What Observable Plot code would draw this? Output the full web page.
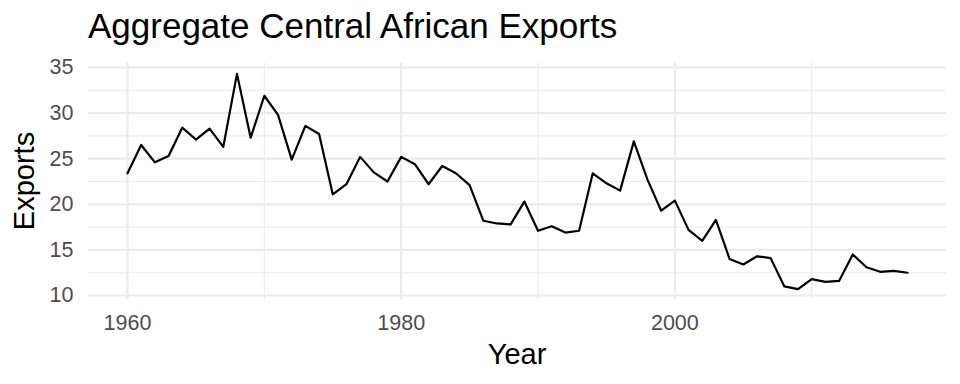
<!DOCTYPE html>
<html><head><meta charset="utf-8">
<script src="https://cdn.jsdelivr.net/npm/d3@7"></script>
<script src="https://cdn.jsdelivr.net/npm/@observablehq/plot@0.6"></script>
<style>
body{margin:0;background:#fff;font-family:"Liberation Sans",Arial,Helvetica,sans-serif}
#wrap{position:relative;width:960px;height:384px;overflow:hidden}
#title{position:absolute;left:88px;top:8px;font-size:35px;line-height:1;color:#000;white-space:nowrap}
.axt{position:absolute;font-size:29px;line-height:1;color:#000;white-space:nowrap;transform:translate(-50%,-50%)}
#xlab{left:517px;top:354px}
#ylab{left:23.5px;top:181px;transform:translate(-50%,-50%) rotate(-90deg)}
</style></head><body>
<div id="wrap"><div id="chart"></div>
<div id="title">Aggregate Central African Exports</div>
<div id="xlab" class="axt">Year</div>
<div id="ylab" class="axt">Exports</div>
</div>
<script>
const years = [1960,1961,1962,1963,1964,1965,1966,1967,1968,1969,
  1970,1971,1972,1973,1974,1975,1976,1977,1978,1979,
  1980,1981,1982,1983,1984,1985,1986,1987,1988,1989,
  1990,1991,1992,1993,1994,1995,1996,1997,1998,1999,
  2000,2001,2002,2003,2004,2005,2006,2007,2008,2009,
  2010,2011,2012,2013,2014,2015,2016,2017];
const exportsVals = [23.4,26.5,24.6,25.3,28.4,27.1,28.3,26.3,34.3,27.3,
  31.9,29.8,24.9,28.6,27.7,21.1,22.2,25.2,23.5,22.5,
  25.2,24.4,22.2,24.2,23.4,22.1,18.2,17.9,17.8,20.3,
  17.1,17.6,16.9,17.1,23.4,22.3,21.5,26.9,22.7,19.3,
  20.4,17.2,16.0,18.3,14.0,13.4,14.3,14.1,11.0,10.7,
  11.8,11.5,11.6,14.5,13.1,12.6,12.7,12.5];
const xMajor = [1960,1980,2000];
const xMinor = [1970,1990,2010];
const yMajor = [10,15,20,25,30,35];
const yMinor = [12.5,17.5,22.5,27.5,32.5];

const data = years.map((y,i)=>({year:y, value:exportsVals[i]}));
const xr = d3.extent(years), yr = d3.extent(exportsVals);
const xe = (xr[1]-xr[0])*0.05, ye = (yr[1]-yr[0])*0.05;
const grid = "#ebebeb";

const chart = Plot.plot({
  width: 960, height: 384,
  marginTop: 62.6, marginBottom: 84.6, marginLeft: 88, marginRight: 14,
  style: {fontFamily: '"Liberation Sans",Arial,sans-serif', fontSize: "21.5px", color: "#4d4d4d", background: "#fff"},
  x: {domain: [xr[0]-xe, xr[1]+xe], label: null},
  y: {domain: [yr[0]-ye, yr[1]+ye], label: null},
  marks: [
    Plot.ruleX(xMinor, {stroke: grid, strokeWidth: 1.1}),
    Plot.ruleY(yMinor, {stroke: grid, strokeWidth: 1.1}),
    Plot.ruleX(xMajor, {stroke: grid, strokeWidth: 2.2}),
    Plot.ruleY(yMajor, {stroke: grid, strokeWidth: 2.2}),
    Plot.line(data, {x: "year", y: "value", stroke: "#000", strokeWidth: 2.2}),
    Plot.axisX({ticks: xMajor, tickFormat: d => String(d), tickSize: 0, tickPadding: 14.6, label: null, fill: "#4d4d4d"}),
    Plot.axisY({ticks: yMajor, tickSize: 0, tickPadding: 15, label: null, fill: "#4d4d4d"})
  ]
});
document.getElementById("chart").appendChild(chart);
</script>
</body></html>
